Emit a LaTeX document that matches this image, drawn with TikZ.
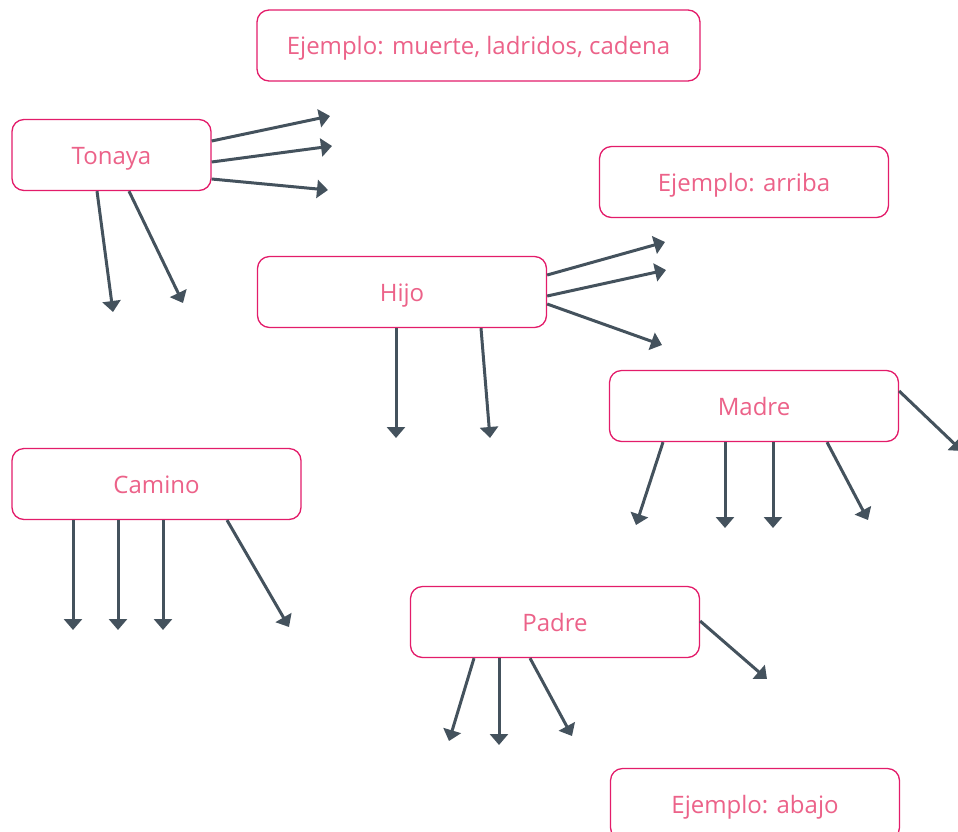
\documentclass[tikz,border=0pt]{standalone}
\usepackage{fontspec}
\setmainfont{Open Sans}
\usetikzlibrary{arrows.meta}
\definecolor{rimpink}{HTML}{E31C6A}
\definecolor{textpink}{HTML}{EC6289}
\definecolor{slate}{HTML}{44525D}
\tikzset{>={Triangle[width=18pt,length=11pt]}}

\begin{document}
\begin{tikzpicture}[x=1pt, y=-1pt,
    concept/.style={rectangle, rounded corners=12pt, draw=rimpink, line width=1.3pt, fill=white, text=textpink, font=\fontsize{24}{28}\selectfont, inner sep=0pt, text height=18pt, text depth=0pt, minimum height=71pt, minimum width=289pt},
    link/.style={->, draw=slate, fill=slate, line width=3pt} ]
    \useasboundingbox (0,0) rectangle (958,831);

    %Nodes
    \node[concept, minimum width=443pt] (muerte) at (478.5,45.5) {Ejemplo: muerte, ladridos, cadena};
    \node[concept, minimum width=199pt] (tonaya) at (111.5,155) {Tonaya};
    \node[concept] (arriba) at (744,182) {Ejemplo: arriba};
    \node[concept] (hijo) at (402,292) {Hijo};
    \node[concept] (madre) at (754,406) {Madre};
    \node[concept] (camino) at (156.5,484) {Camino};
    \node[concept] (padre) at (555,622) {Padre};
    \node[concept] (abajo) at (755,804) {Ejemplo: abajo};

    %Free ends
    \coordinate (tonaya_e1) at (330,116);
    \coordinate (tonaya_e2) at (332,146);
    \coordinate (tonaya_e3) at (328,190);
    \coordinate (tonaya_s1) at (113,312);
    \coordinate (tonaya_s2) at (183,303);
    \coordinate (hijo_e1) at (665,242);
    \coordinate (hijo_e2) at (666,270);
    \coordinate (hijo_e3) at (662,345);
    \coordinate (hijo_s1) at (396,438);
    \coordinate (hijo_s2) at (490,438);
    \coordinate (madre_e1) at (962,451);
    \coordinate (madre_s1) at (636,525);
    \coordinate (madre_s2) at (725,528);
    \coordinate (madre_s3) at (773,528);
    \coordinate (madre_s4) at (868,520);
    \coordinate (camino_s1) at (73,630);
    \coordinate (camino_s2) at (118,630);
    \coordinate (camino_s3) at (163,630);
    \coordinate (camino_s4) at (289,627);
    \coordinate (padre_e1) at (767,679);
    \coordinate (padre_s1) at (449,741);
    \coordinate (padre_s2) at (499,745);
    \coordinate (padre_s3) at (572,736);

    %Lines
    \draw[link] ([yshift=14pt]tonaya.east) -- (tonaya_e1);
    \draw[link] ([yshift=-7pt]tonaya.east) -- (tonaya_e2);
    \draw[link] ([yshift=-24pt]tonaya.east) -- (tonaya_e3);
    \draw[link] ([xshift=-14.5pt]tonaya.south) -- (tonaya_s1);
    \draw[link] ([xshift=17.5pt]tonaya.south) -- (tonaya_s2);
    \draw[link] ([yshift=17pt]hijo.east) -- (hijo_e1);
    \draw[link] ([yshift=-4pt]hijo.east) -- (hijo_e2);
    \draw[link] ([yshift=-12pt]hijo.east) -- (hijo_e3);
    \draw[link] ([xshift=-6pt]hijo.south) -- (hijo_s1);
    \draw[link] ([xshift=79pt]hijo.south) -- (hijo_s2);
    \draw[link] ([yshift=15pt]madre.east) -- (madre_e1);
    \draw[link] ([xshift=-91pt]madre.south) -- (madre_s1);
    \draw[link] ([xshift=-29pt]madre.south) -- (madre_s2);
    \draw[link] ([xshift=19pt]madre.south) -- (madre_s3);
    \draw[link] ([xshift=73pt]madre.south) -- (madre_s4);
    \draw[link] ([xshift=-83.5pt]camino.south) -- (camino_s1);
    \draw[link] ([xshift=-38.5pt]camino.south) -- (camino_s2);
    \draw[link] ([xshift=6.5pt]camino.south) -- (camino_s3);
    \draw[link] ([xshift=70.5pt]camino.south) -- (camino_s4);
    \draw[link] ([yshift=1pt]padre.east) -- (padre_e1);
    \draw[link] ([xshift=-81pt]padre.south) -- (padre_s1);
    \draw[link] ([xshift=-56pt]padre.south) -- (padre_s2);
    \draw[link] ([xshift=-25pt]padre.south) -- (padre_s3);
\end{tikzpicture}
\end{document}
